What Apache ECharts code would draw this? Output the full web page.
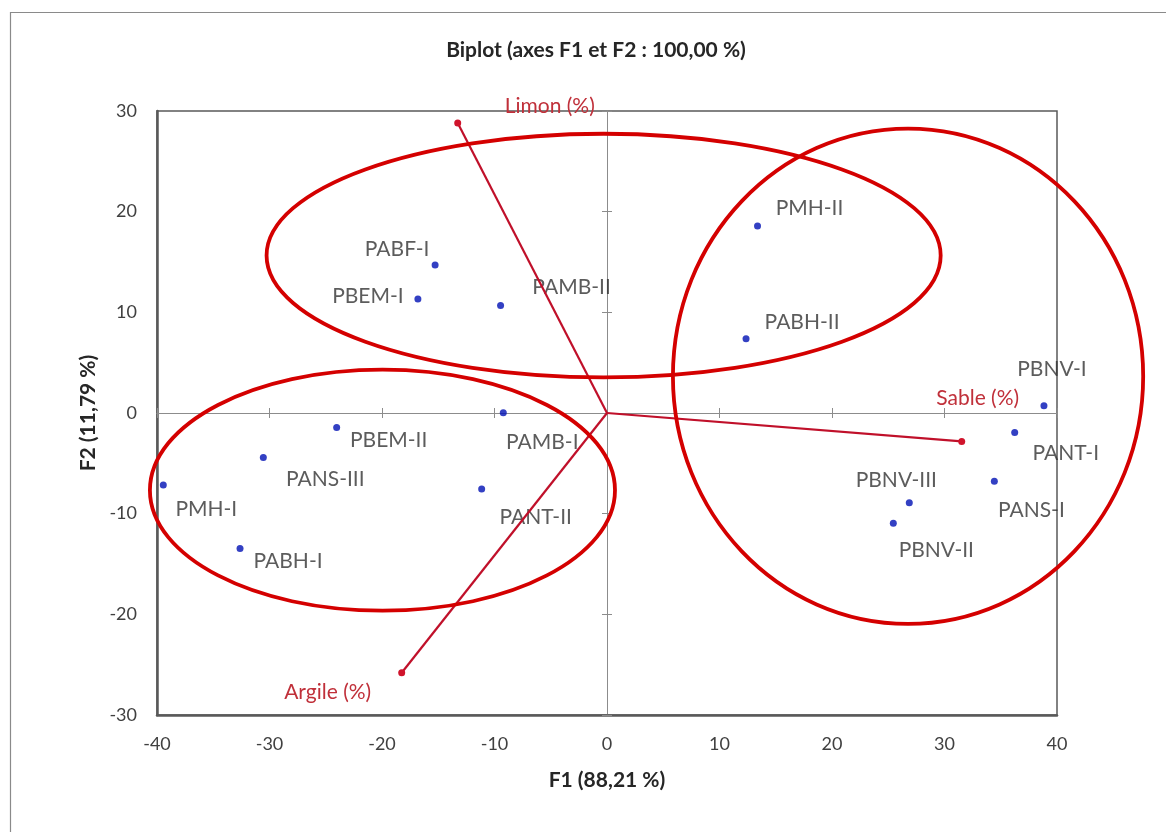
<!DOCTYPE html>
<html>
<head>
<meta charset="utf-8">
<script src="https://cdn.jsdelivr.net/npm/echarts@6/dist/echarts.min.js"></script>
<style>
html,body{margin:0;padding:0;background:#fff;}
#chart{width:1166px;height:832px;}
</style>
</head>
<body>
<div id="chart"></div>
<script>
// ---- Data ----
const obsNames = ['PMH-II','PABH-II','PABF-I','PBEM-I','PAMB-II','PBNV-I','PANT-I','PANS-I','PBNV-III','PBNV-II','PBEM-II','PAMB-I','PANS-III','PMH-I','PANT-II','PABH-I'];
const obsF1 = [13.38, 12.36, -15.28, -16.81, -9.46, 38.84, 36.24, 34.43, 26.87, 25.45, -24.03, -9.22, -30.55, -39.44, -11.14, -32.62];
const obsF2 = [18.57, 7.38, 14.70, 11.32, 10.69, 0.73, -1.93, -6.79, -8.91, -10.96, -1.43, 0.03, -4.41, -7.15, -7.55, -13.45];

const varNames = ['Limon (%)', 'Sable (%)', 'Argile (%)'];
const varF1 = [-13.27, 31.53, -18.25];
const varF2 = [28.80, -2.82, -25.80];

// group ellipses: centre (F1, F2) and half-widths (F1 units, F2 units)
const groupCx = [-0.3, -19.96, 26.76];
const groupCy = [15.64, -7.67, 3.65];
const groupRx = [29.96, 20.67, 20.9];
const groupRy = [12.1, 11.97, 24.6];

const xTicks = {min: -40, max: 40, step: 10};
const yTicks = {min: -30, max: 30, step: 10};

const titleText = 'Biplot (axes F1 et F2 : 100,00 %)';
const xName = 'F1 (88,21 %)';
const yName = 'F2 (11,79 %)';

// ---- Layout / style (label offsets in pixels, relative to the mark) ----
const obsLabelOffset = {
  'PMH-II':[52,-18], 'PABH-II':[56,-16], 'PABF-I':[-38,-16], 'PBEM-I':[-50,-3],
  'PAMB-II':[71,-18], 'PBNV-I':[8,-36], 'PANT-I':[51,21], 'PANS-I':[37,29],
  'PBNV-III':[-13,-22], 'PBNV-II':[43,27], 'PBEM-II':[52,13], 'PAMB-I':[39,30],
  'PANS-III':[62,22], 'PMH-I':[43,24], 'PANT-II':[54,28], 'PABH-I':[48,13]
};
const varLabelOffset = {'Limon (%)':[92,-17], 'Sable (%)':[16,-43], 'Argile (%)':[-74,20]};

const FONT = 'Lato';
const frameColor = '#595959';
const zeroColor = '#8c8c8c';
const textGray = '#333333';

const chart = echarts.init(document.getElementById('chart'), null, {renderer:'canvas'});

const baseAxis = (extra, t) => Object.assign({
  type:'value', min:t.min, max:t.max, interval:t.step,
  splitLine:{show:false}
}, extra);

const xAxes = [
  baseAxis({
    position:'bottom', gridIndex:0,
    axisLine:{onZero:false, lineStyle:{color:frameColor, width:2.5}},
    axisTick:{show:false},
    axisLabel:{color:'#404040', fontFamily:FONT, fontSize:18, margin:20},
    name:xName, nameLocation:'middle', nameGap:55,
    nameTextStyle:{fontFamily:FONT, fontWeight:'bold', fontSize:21, color:'#262626'}
  }, xTicks),
  baseAxis({
    position:'bottom',
    axisLine:{onZero:true, onZeroAxisIndex:0, lineStyle:{color:zeroColor, width:1}},
    axisTick:{show:true, inside:false, length:5, lineStyle:{color:zeroColor, width:1}},
    axisLabel:{show:false}
  }, xTicks),
  baseAxis({
    position:'bottom',
    axisLine:{onZero:true, onZeroAxisIndex:0, lineStyle:{color:zeroColor, width:1}},
    axisTick:{show:true, inside:true, length:5, lineStyle:{color:zeroColor, width:1}},
    axisLabel:{show:false}
  }, xTicks)
];
const yAxes = [
  baseAxis({
    position:'left',
    axisLine:{onZero:false, lineStyle:{color:frameColor, width:2.5}},
    axisTick:{show:false},
    axisLabel:{color:'#404040', fontFamily:FONT, fontSize:18, margin:20},
    name:yName, nameLocation:'middle', nameGap:56, nameRotate:90,
    nameTextStyle:{fontFamily:FONT, fontWeight:'bold', fontSize:21, color:'#262626'}
  }, yTicks),
  baseAxis({
    position:'left',
    axisLine:{onZero:true, onZeroAxisIndex:0, lineStyle:{color:zeroColor, width:1}},
    axisTick:{show:true, inside:false, length:5, lineStyle:{color:zeroColor, width:1}},
    axisLabel:{show:false}
  }, yTicks),
  baseAxis({
    position:'left',
    axisLine:{onZero:true, onZeroAxisIndex:0, lineStyle:{color:zeroColor, width:1}},
    axisTick:{show:true, inside:true, length:5, lineStyle:{color:zeroColor, width:1}},
    axisLabel:{show:false}
  }, yTicks)
];

const obsData = obsNames.map((n, i) => ({
  name:n, value:[obsF1[i], obsF2[i]],
  label:{show:true, formatter:n, position:'inside', offset:obsLabelOffset[n], align:'center', verticalAlign:'middle'}
}));

const vectorSeries = varNames.map((n, i) => ({
  type:'line', name:n, xAxisIndex:0, yAxisIndex:0, z:4,
  data:[[0,0],[varF1[i], varF2[i]]],
  symbol:'circle',
  symbolSize:(v, p) => p.dataIndex === 0 ? 0 : 7,
  showAllSymbol:true,
  lineStyle:{color:'#c0102a', width:2.2},
  itemStyle:{color:'#d0142c'},
  label:{
    show:true, position:'inside', offset:varLabelOffset[n], align:'center', verticalAlign:'middle',
    formatter:(p) => p.dataIndex === 1 ? n : '',
    color:'#c0303a', fontFamily:FONT, fontSize:21
  },
  emphasis:{disabled:true},
  animation:false
}));

const ellipseData = groupCx.map((c, i) => [c, groupCy[i], groupRx[i], groupRy[i]]);

const option = {
  animation:false,
  backgroundColor:'#ffffff',
  title:{
    text:titleText, left:591, top:35, textAlign:'center',
    textStyle:{fontFamily:FONT, fontWeight:'bold', fontSize:21, color:'#262626'}
  },
  grid:{left:157, right:109, top:111, bottom:117, show:true, borderColor:frameColor, borderWidth:1.5, backgroundColor:'transparent'},
  xAxis:xAxes,
  yAxis:yAxes,
  graphic:[{
    type:'rect', left:8, top:10, z:-10, silent:true,
    shape:{x:0, y:0, width:1200, height:900},
    style:{fill:'none', stroke:'#8a8a8a', lineWidth:1.2}
  }],
  series:[
    {
      type:'scatter', name:'obs', xAxisIndex:0, yAxisIndex:0, z:3,
      symbol:'circle', symbolSize:7,
      itemStyle:{color:'#0010b4'},
      label:{color:textGray, fontFamily:FONT, fontSize:21},
      data:obsData,
      emphasis:{disabled:true}
    },
    ...vectorSeries,
    {
      type:'custom', name:'groups', xAxisIndex:0, yAxisIndex:0, z:5, clip:false,
      encode:{x:0, y:1},
      data:ellipseData,
      silent:true,
      renderItem:(params, api) => {
        const c = api.coord([api.value(0), api.value(1)]);
        const s = api.size([api.value(2), api.value(3)]);
        return {
          type:'ellipse',
          shape:{cx:c[0], cy:c[1], rx:s[0], ry:s[1]},
          style:{fill:'none', stroke:'#d40000', lineWidth:3.8}
        };
      }
    }
  ]
};
chart.setOption(option);
</script>
</body>
</html>
